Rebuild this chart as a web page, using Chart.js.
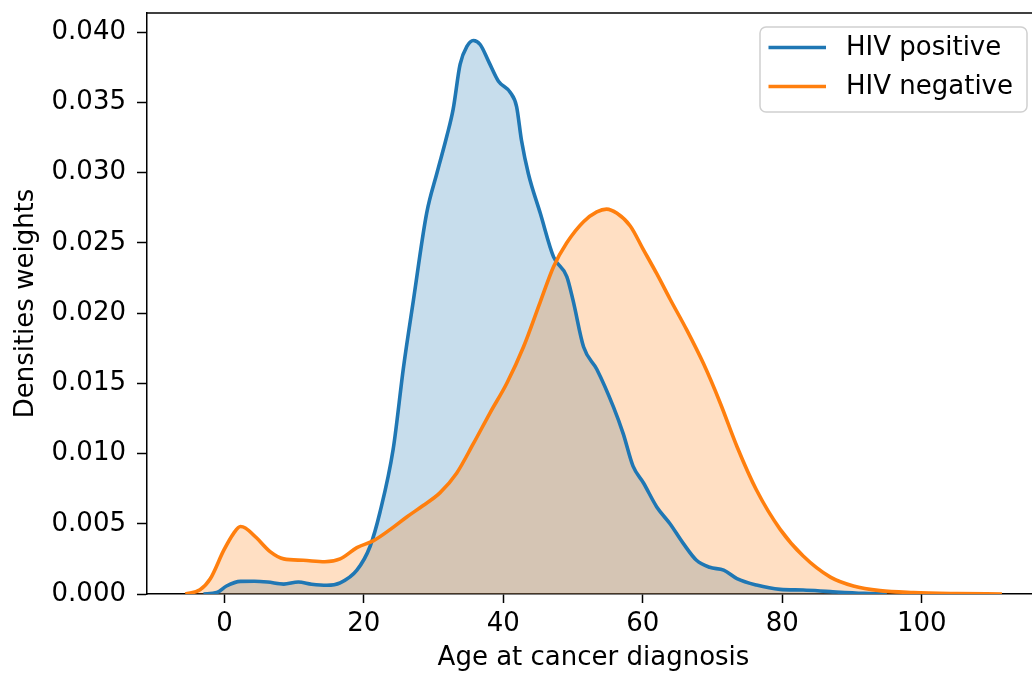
<!DOCTYPE html>
<html>
<head>
<meta charset="utf-8">
<script src="https://cdn.jsdelivr.net/npm/chart.js@4/dist/chart.umd.min.js"></script>
<style>
html,body{margin:0;padding:0;background:#fff;overflow:hidden;}
#wrap{position:relative;width:1042px;height:675px;}
</style>
</head>
<body>
<div id="wrap"><canvas id="c"></canvas></div>
<script>
// ---- data ----
const seriesLabels = ['HIV positive', 'HIV negative'];
const hivPosAge = [-3.0,-1.1,0.3,2.3,4.3,6.2,8.5,10.6,12.5,14.7,16.6,19.0,20.9,22.3,24.2,25.7,27.1,29.0,30.5,31.9,32.8,33.8,34.8,35.7,36.7,37.9,39.3,41.0,41.9,42.6,43.6,45.3,47.2,49.1,50.0,51.5,53.4,55.8,57.2,58.6,60.1,62.0,63.9,65.8,67.7,69.6,71.6,73.5,76.3,79.7,83.0,86.9,91.7,95.0];
const hivPosDensity = [0,0.0001,0.00057,0.0009,0.00091,0.00085,0.0007,0.00085,0.0007,0.00062,0.0008,0.0017,0.0034,0.0058,0.0103,0.0162,0.0209,0.0271,0.0300,0.0326,0.0345,0.0377,0.0390,0.0394,0.0391,0.0379,0.0365,0.0357,0.0347,0.0323,0.0299,0.0271,0.0240,0.0226,0.0209,0.0176,0.0160,0.0133,0.0114,0.0091,0.0079,0.0062,0.0050,0.0036,0.0024,0.0019,0.0017,0.0011,0.00064,0.00033,0.00028,0.00017,0.00005,0];
const hivNegAge = [-5.6,-3.5,-2.0,-0.1,1.3,2.3,3.0,4.6,6.6,8.5,11.3,14.4,16.6,19.0,21.4,23.8,26.2,28.5,30.9,33.3,35.7,38.1,40.5,42.9,45.3,47.2,49.1,51.5,53.4,54.8,56.3,58.2,60.1,62.0,63.9,66.3,68.7,71.1,73.5,76.3,79.7,83.0,86.9,90.2,94.0,98.8,105.0,111.5];
const hivNegDensity = [0,0.0003,0.0011,0.0031,0.0043,0.0048,0.0047,0.0040,0.0030,0.0025,0.0024,0.0023,0.0025,0.0033,0.0038,0.0046,0.0055,0.0063,0.0072,0.0086,0.0107,0.0129,0.0150,0.0176,0.0208,0.0233,0.0250,0.0265,0.0272,0.0274,0.0271,0.0262,0.0245,0.0228,0.0210,0.0188,0.0164,0.0136,0.0105,0.0074,0.0046,0.0027,0.0012,0.00057,0.00024,0.0001,0.00003,0];
const xTickValues = [0,20,40,60,80,100];
const yTickValues = [0,0.005,0.010,0.015,0.020,0.025,0.030,0.035,0.040];
const xTitle = 'Age at cancer diagnosis';
const yTitle = 'Densities weights';

const toPts = (xs, ys) => xs.map((x, i) => ({x: x, y: ys[i]}));

const FONT = 'DejaVu Sans';
const FS = 26;
const LW = 3.6;
Chart.defaults.font.family = FONT;
Chart.defaults.font.size = FS;
Chart.defaults.color = '#000';

const zeroPad = s => { s.paddingTop = 0; s.paddingBottom = 0; s.paddingLeft = 0; s.paddingRight = 0; };

const topSpine = {
  id: 'topSpine',
  afterDatasetsDraw(chart) {
    const {ctx, chartArea: a} = chart;
    ctx.save();
    ctx.strokeStyle = '#000';
    ctx.lineWidth = 1.5;
    ctx.beginPath();
    ctx.moveTo(a.left - 0.75, a.top);
    ctx.lineTo(a.right + 2, a.top);
    ctx.stroke();
    ctx.restore();
  }
};

const boxLegend = {
  id: 'boxLegend',
  afterDraw(chart) {
    const ctx = chart.ctx;
    const x0 = 760, y0 = 27, w = 267, h = 85, r = 6;
    ctx.save();
    ctx.beginPath();
    ctx.roundRect(x0, y0, w, h, r);
    ctx.fillStyle = 'rgba(255,255,255,0.8)';
    ctx.fill();
    ctx.lineWidth = 1.5;
    ctx.strokeStyle = '#d0d0d0';
    ctx.stroke();
    const rows = [47.5, 86.5];
    chart.data.datasets.forEach((ds, i) => {
      const y = rows[i];
      ctx.strokeStyle = ds.borderColor;
      ctx.lineWidth = LW;
      ctx.beginPath();
      ctx.moveTo(768.5, y);
      ctx.lineTo(826, y);
      ctx.stroke();
      ctx.fillStyle = '#000';
      ctx.font = FS + 'px "' + FONT + '"';
      ctx.textBaseline = 'middle';
      ctx.textAlign = 'left';
      ctx.fillText(ds.label, 846, y + 1);
    });
    ctx.restore();
  }
};

new Chart(document.getElementById('c'), {
  type: 'line',
  data: {
    datasets: [
      {
        label: seriesLabels[0],
        data: toPts(hivPosAge, hivPosDensity),
        borderColor: '#1f77b4',
        backgroundColor: 'rgba(31,119,180,0.25)',
        fill: 'origin',
        borderWidth: LW,
        pointRadius: 0,
        cubicInterpolationMode: 'monotone',
        order: 1
      },
      {
        label: seriesLabels[1],
        data: toPts(hivNegAge, hivNegDensity),
        borderColor: '#ff7f0e',
        backgroundColor: 'rgba(255,127,14,0.25)',
        fill: 'origin',
        borderWidth: LW,
        pointRadius: 0,
        cubicInterpolationMode: 'monotone',
        order: 0
      }
    ]
  },
  options: {
    responsive: true,
    maintainAspectRatio: false,
    animation: false,
    layout: {padding: {top: 13, right: 2, bottom: 0, left: 0}},
    plugins: {legend: {display: false}, tooltip: {enabled: false}, filler: {drawTime: 'beforeDatasetsDraw'}},
    scales: {
      x: {
        type: 'linear',
        min: -11.1,
        max: 116.96,
        afterFit: s => { s.height = 81; zeroPad(s); },
        afterBuildTicks: s => { s.ticks = xTickValues.map(v => ({value: v})); },
        grid: {drawOnChartArea: false, drawTicks: true, tickLength: 9, color: '#000', tickWidth: 1.5},
        border: {display: true, color: '#000', width: 1.5},
        ticks: {padding: 6, color: '#000', callback: v => String(v), maxRotation: 0, autoSkip: false},
        title: {display: true, text: xTitle, color: '#000', padding: {top: 0, bottom: 1}}
      },
      y: {
        type: 'linear',
        min: 0,
        max: 0.04136,
        afterFit: s => { s.width = 147; zeroPad(s); },
        afterBuildTicks: s => { s.ticks = yTickValues.map(v => ({value: v})); },
        grid: {drawOnChartArea: false, drawTicks: true, tickLength: 10, color: '#000', tickWidth: 1.5},
        border: {display: true, color: '#000', width: 1.5},
        ticks: {padding: 11, color: '#000', callback: v => Number(v).toFixed(3), autoSkip: false},
        title: {display: true, text: yTitle, color: '#000', padding: {top: 11, bottom: 0}}
      }
    }
  },
  plugins: [topSpine, boxLegend]
});
</script>
</body>
</html>
